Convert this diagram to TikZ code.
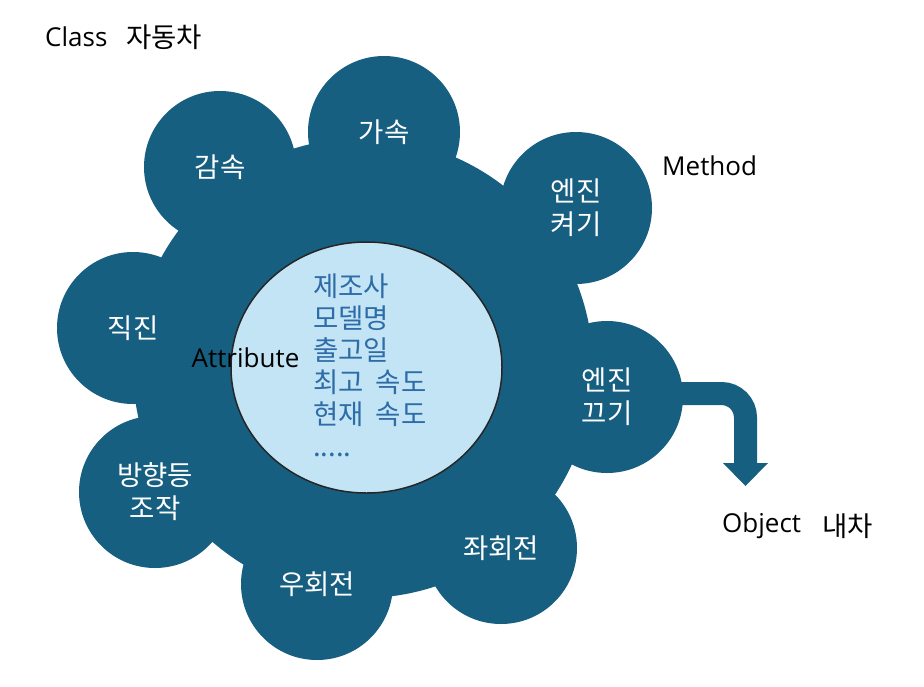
\documentclass[tikz,border=0pt]{standalone}
\usepackage{fontspec}
\setmainfont{Open Sans}
\newfontfamily\kr{Noto Sans CJK KR}
\usetikzlibrary{shapes.geometric,backgrounds}
\definecolor{petal}{RGB}{23,95,128}
\definecolor{innerfill}{RGB}{194,228,244}
\definecolor{attrblue}{RGB}{46,108,168}
\newcommand{\krgap}{\hspace{12pt}}
\begin{document}
\begin{tikzpicture}[x=1pt,y=-1pt,
  petalnode/.style={circle, fill=petal, minimum size=152pt, inner sep=0pt, text=white, align=center, font=\kr\fontsize{27.5}{33}\selectfont},
  attrline/.style={anchor=base west, text=attrblue, inner sep=0pt, font=\kr\fontsize{27.5}{32}\selectfont},
  lbl/.style={text=black, inner sep=0pt, font=\fontsize{26}{32}\selectfont},
  krlbl/.style={text=black, inner sep=0pt, font=\kr\fontsize{27.5}{32}\selectfont}]
\useasboundingbox (0,0) rectangle (924,686);
% body
\node[circle, fill=petal, minimum size=460pt, inner sep=0pt] (body) at (363,368) {};
% petals
\node[petalnode] (gasok) at (384,132) {가속};
\node[petalnode] (gamsok) at (220,167) {감속};
\node[petalnode] (engon) at (576,208) {엔진\\켜기};
\node[petalnode] (engoff) at (607,397) {엔진\\끄기};
\node[petalnode] (straight) at (133,328) {직진};
\node[petalnode] (signal) at (155,492) {방향등\\조작};
\node[petalnode] (right) at (317,584) {우회전};
\node[petalnode] (left) at (501,548) {좌회전};
% arrow (behind the petals)
\coordinate (bend) at (745.5,393.5);
\coordinate (stemend) at (745.5,464);
\coordinate (headL) at (723,463);
\coordinate (headR) at (768,463);
\coordinate (headtip) at (745.5,486);
\begin{scope}[on background layer]
\fill[white] (0,0) rectangle (924,686);
\draw[petal, line width=23pt, rounded corners=24pt] (engoff.center |- bend) -- (bend) -- (stemend);
\fill[petal] (headL) -- (headR) -- (headtip) -- cycle;
\end{scope}
% inner ellipse
\node[ellipse, fill=innerfill, draw=black!85, line width=1.5pt, minimum width=271pt, minimum height=251pt, inner sep=0pt] (attrs) at (366.5,367.5) {};
\node[attrline] (a1) at (313,296) {제조사};
\node[attrline] (a2) at (313,328) {모델명};
\node[attrline] (a3) at (313,360) {출고일};
\node[attrline] (a4) at (313,392) {최고\krgap 속도};
\node[attrline] (a5) at (313,424) {현재\krgap 속도};
\node[attrline] (a6) at (313,456) {.....};
% labels
\node[lbl, anchor=west] (classlbl) at (45,37) {Class};
\node[krlbl, anchor=west] (classname) at (126,37) {자동차};
\node[lbl, anchor=west] (methodlbl) at (662,166) {Method};
\node[lbl] (attrlbl) at (245.5,358) {Attribute};
\node[lbl, anchor=west] (objlbl) at (722,526) {Object};
\node[krlbl, anchor=west] (objname) at (822,526) {내차};
\end{tikzpicture}
\end{document}
